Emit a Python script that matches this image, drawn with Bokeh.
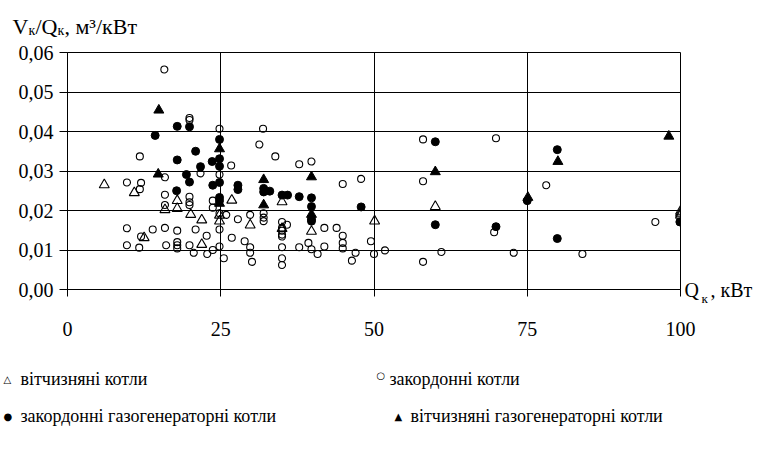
from bokeh.plotting import figure
from bokeh.models import Label, FixedTicker, CustomJSTickFormatter, Range1d, LinearAxis
from bokeh.layouts import column, row
from bokeh.embed import file_html
from bokeh.resources import INLINE

# ---- data ----
x_ticks = [0, 25, 50, 75, 100]
y_ticks = [0.0, 0.01, 0.02, 0.03, 0.04, 0.05, 0.06]

# вітчизняні котли (open triangles)
x_dom = [6.0, 10.9, 12.5, 15.9, 17.9, 17.9, 20.1, 21.9, 21.9, 24.8, 24.8, 26.8, 29.8,
         35.0, 35.0, 39.8, 50.1, 60.0, 100.0, 100.0, 100.0]
y_dom = [0.0265, 0.0245, 0.0131, 0.0202, 0.0225, 0.0205, 0.0190, 0.0176, 0.0114, 0.0188,
         0.0173, 0.0226, 0.0163, 0.0222, 0.0154, 0.0147, 0.0173, 0.0210, 0.0198, 0.0193, 0.0188]

# закордонні котли (open circles)
x_for = [15.8, 19.9, 19.9, 11.8, 24.8, 31.9, 31.3, 33.9, 26.7, 37.8, 39.8, 21.7, 24.8,
         9.7, 12.0, 11.8, 15.9, 15.9, 19.9, 19.9, 19.9, 15.9, 23.7, 23.7, 24.8, 25.9,
         29.8, 27.8, 32.0, 32.0, 32.0, 35.0, 35.8, 35.0, 35.0, 35.0, 35.0, 9.7, 13.9,
         15.9, 17.9, 20.9, 22.7, 12.0, 9.7, 11.7, 16.1, 17.9, 17.9, 17.9, 19.9, 20.6,
         22.8, 24.8, 26.8, 24.8, 23.7, 25.5, 28.9, 29.8, 29.8, 30.1, 35.0, 35.0, 35.0,
         37.8, 39.3, 39.8, 40.8, 41.9, 41.9, 43.9, 44.9, 44.9, 44.9, 44.9, 47.9, 49.5,
         47.0, 46.4, 50.0, 51.8, 58.0, 58.0, 58.0, 61.0, 69.9, 69.6, 72.8, 78.1, 84.0, 95.9]
y_for = [0.0557, 0.0434, 0.0429, 0.0337, 0.0407, 0.0407, 0.0367, 0.0337, 0.0314, 0.0317,
         0.0324, 0.0294, 0.0291, 0.0271, 0.0270, 0.0254, 0.0284, 0.0240, 0.0235, 0.0221,
         0.0214, 0.0214, 0.0225, 0.0207, 0.0193, 0.0189, 0.0189, 0.0178, 0.0193, 0.0182,
         0.0173, 0.0171, 0.0164, 0.0156, 0.0149, 0.0139, 0.0134, 0.0155, 0.0152, 0.0156,
         0.0149, 0.0152, 0.0136, 0.0134, 0.0112, 0.0106, 0.0112, 0.0120, 0.0112, 0.0104,
         0.0112, 0.0093, 0.0090, 0.0152, 0.0131, 0.0109, 0.0100, 0.0079, 0.0122, 0.0107,
         0.0093, 0.0070, 0.0107, 0.0079, 0.0062, 0.0107, 0.0118, 0.0102, 0.0090, 0.0109,
         0.0156, 0.0156, 0.0136, 0.0118, 0.0104, 0.0267, 0.0280, 0.0122, 0.0093, 0.0073,
         0.0090, 0.0099, 0.0380, 0.0274, 0.0070, 0.0095, 0.0383, 0.0145, 0.0093, 0.0264,
         0.0090, 0.0171]

# закордонні газогенераторні котли (filled circles)
x_for_gas = [17.9, 19.9, 14.3, 20.9, 17.9, 21.7, 19.4, 19.9, 17.8, 24.8, 24.8, 23.6, 24.8,
             23.7, 24.8, 27.8, 27.8, 32.0, 32.0, 33.0, 35.0, 35.9, 37.8, 39.8, 24.8, 24.8,
             39.8, 39.8, 39.8, 47.9, 60.0, 60.0, 69.9, 79.9, 75.0, 99.9, 79.9]
y_for_gas = [0.0413, 0.0412, 0.0390, 0.0350, 0.0328, 0.0311, 0.0291, 0.0272, 0.0250, 0.0380,
             0.0331, 0.0324, 0.0312, 0.0264, 0.0271, 0.0264, 0.0253, 0.0256, 0.0247, 0.0249,
             0.0239, 0.0239, 0.0235, 0.0232, 0.0233, 0.0225, 0.0210, 0.0178, 0.0173, 0.0209,
             0.0374, 0.0164, 0.0159, 0.0354, 0.0225, 0.0171, 0.0129]

# вітчизняні газогенераторні котли (filled triangles)
x_dom_gas = [14.9, 24.8, 14.8, 32.0, 39.8, 24.8, 32.0, 39.8, 60.0, 98.1, 80.0, 75.1]
y_dom_gas = [0.0454, 0.0356, 0.0292, 0.0278, 0.0285, 0.0218, 0.0214, 0.0190, 0.0298,
             0.0388, 0.0324, 0.0233]

legend_labels = ["вітчизняні котли", "закордонні котли",
                 "закордонні газогенераторні котли", "вітчизняні газогенераторні котли"]
legend_symbols = ["△", "○", "●", "▲"]

FONT = "Liberation Serif"
W_TOTAL = 755
TOP_H = 40
MAIN_H = 304
LEG_H = 95


def text_canvas(w, h):
    f = figure(width=w, height=h, x_range=Range1d(0, w), y_range=Range1d(h, 0),
               min_border=0, toolbar_location=None, output_backend="svg",
               x_axis_type=None, y_axis_type=None)
    f.grid.visible = False
    f.outline_line_color = None
    f.background_fill_color = "white"
    f.border_fill_color = "white"
    return f


def lab(f, text, x, y, size, baseline="alphabetic", font=FONT):
    f.add_layout(Label(x=x, y=y, text=text, text_font=font,
                       text_font_size=f"{size}px", text_color="black",
                       text_baseline=baseline, text_align="left"))


# ---- main plot ----
p = figure(width=W_TOTAL, height=MAIN_H, output_backend="svg", toolbar_location=None,
           x_range=Range1d(0, 100), y_range=Range1d(0, 0.06),
           min_border_left=67, min_border_right=70, min_border_top=12, min_border_bottom=55)
p.background_fill_color = "white"
p.border_fill_color = "white"
p.outline_line_color = "black"
p.outline_line_width = 1

p.xaxis.ticker = FixedTicker(ticks=x_ticks)
p.yaxis.ticker = FixedTicker(ticks=y_ticks)
p.yaxis.formatter = CustomJSTickFormatter(code="return tick.toFixed(2).replace('.', ',');")
for ax in (p.xaxis[0], p.yaxis[0]):
    ax.axis_line_color = "black"
    ax.major_tick_line_color = "black"
    ax.minor_tick_line_color = None
    ax.major_label_text_font = FONT
    ax.major_label_text_font_size = "20px"
    ax.major_label_text_color = "black"
    ax.major_tick_in = 0
p.yaxis.major_tick_out = 8
p.yaxis.major_label_standoff = 6
p.xaxis.major_tick_out = 7
p.xaxis.major_label_standoff = 25

p.xgrid.ticker = FixedTicker(ticks=x_ticks)
p.ygrid.ticker = FixedTicker(ticks=y_ticks)
p.xgrid.grid_line_color = "black"
p.ygrid.grid_line_color = "black"

p.scatter(x_dom, y_dom, marker="triangle", size=10, fill_color=None,
          line_color="black", line_width=1.1)
p.scatter(x_for, y_for, marker="circle", size=7, fill_color=None,
          line_color="black", line_width=1.1)
p.scatter(x_for_gas, y_for_gas, marker="circle", size=8, fill_color="black",
          line_color="black")
p.scatter(x_dom_gas, y_dom_gas, marker="triangle", size=10, fill_color="black",
          line_color="black")

# ---- x-axis title "Qк, кВт" at the right end of the axis, built from label-only axes ----
q_parts = [("Q", 20, 4), ("\nк", 13, 0), (", кВт", 20, 0)]
for text, size, standoff in q_parts:
    qa = LinearAxis(ticker=FixedTicker(ticks=[0]), major_label_overrides={0: text},
                    axis_line_color=None, major_tick_line_color=None,
                    minor_tick_line_color=None, major_tick_in=0, major_tick_out=0,
                    major_label_standoff=standoff, major_label_text_font=FONT,
                    major_label_text_font_size=f"{size}px", major_label_text_color="black")
    p.add_layout(qa, "right")

# ---- y-axis title above the plot:  Vк/Qк, м³/кВт ----
S, s = 22, 14
top = text_canvas(W_TOTAL, TOP_H)
bx, by = 12, 26
lab(top, "V", bx, by, S)
bx += 0.722 * S
lab(top, "к", bx, by + 4, s)
bx += 0.5 * s
lab(top, "/Q", bx, by, S)
bx += 1.0 * S
lab(top, "к", bx, by + 4, s)
bx += 0.5 * s
lab(top, ", м³/кВт", bx, by, S)

# ---- legend below ----
leg = text_canvas(W_TOTAL, LEG_H)
sym_x = [3, 376, 3, 394]
txt_x = [20, 389, 20, 410]
row_y = [34, 34, 71, 71]
sym_dy = [1, -3, 1, 1]
for sym, text, sx, tx, ry, dy in zip(legend_symbols, legend_labels, sym_x, txt_x, row_y, sym_dy):
    lab(leg, sym, sx, ry + dy, 10, baseline="middle", font="DejaVu Sans")
    lab(leg, text, tx, ry, 18, baseline="middle")

# the plot is wrapped in its own row so that its frame is not aligned with the text canvases
layout = column(top, row(p), leg)
open("out.html", "w").write(file_html(layout, INLINE))
